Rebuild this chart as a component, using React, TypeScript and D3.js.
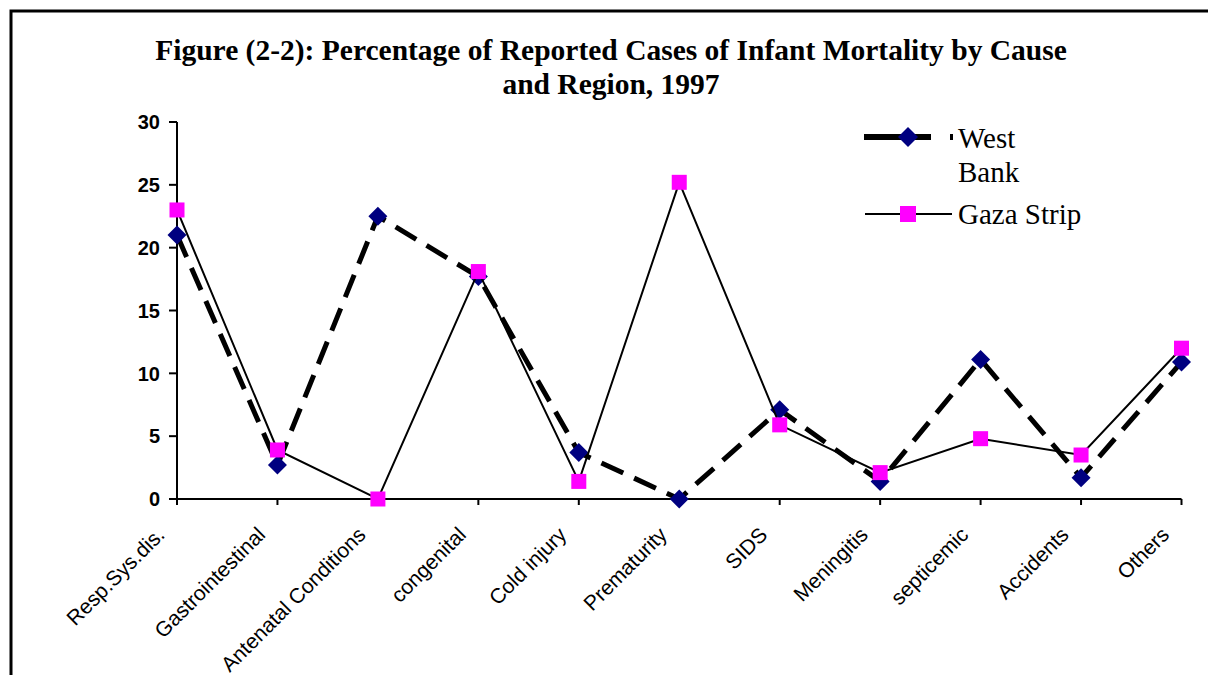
import React from "react";
import * as d3 from "d3";

const categories = [
  "Resp.Sys.dis.",
  "Gastrointestinal",
  "Antenatal Conditions",
  "congenital",
  "Cold injury",
  "Prematurity",
  "SIDS",
  "Meningitis",
  "septicemic",
  "Accidents",
  "Others",
];
const westBank = [21.0, 2.7, 22.5, 17.7, 3.7, 0, 7.1, 1.4, 11.1, 1.7, 10.9];
const gazaStrip = [23.0, 3.9, 0, 18.1, 1.4, 25.2, 5.9, 2.1, 4.8, 3.5, 12.0];
const yTicks = [0, 5, 10, 15, 20, 25, 30];
const titleLines = [
  "Figure (2-2): Percentage of Reported Cases of Infant Mortality by Cause",
  "and Region, 1997",
];

const W = 1208;
const H = 675;
const NAVY = "#000080";
const MAGENTA = "#FF00FF";
const SERIF = "'Liberation Serif', 'Times New Roman', serif";
const SANS = "'Liberation Sans', Arial, sans-serif";

export default function App() {
  const x = d3.scalePoint<string>().domain(categories).range([177, 1181.5]);
  const y = d3.scaleLinear().domain([0, 30]).range([499, 122]);

  const line = d3
    .line<number>()
    .x((_, i) => x(categories[i]) as number)
    .y((d) => y(d));

  const diamond = (cx: number, cy: number, r: number) =>
    `M${cx},${cy - r}L${cx + r},${cy}L${cx},${cy + r}L${cx - r},${cy}Z`;

  return (
    <svg
      width={W}
      height={H}
      style={{ position: "absolute", left: 0, top: 0, background: "#fff" }}
    >
      <rect x={0} y={0} width={W} height={H} fill="#fff" />
      {/* chart border */}
      <rect
        x={11}
        y={11}
        width={W + 20}
        height={H + 20}
        fill="none"
        stroke="#000"
        strokeWidth={3}
      />
      {/* title */}
      {titleLines.map((t, i) => (
        <text
          key={i}
          x={611}
          y={60 + i * 34}
          textAnchor="middle"
          fontFamily={SERIF}
          fontWeight="bold"
          fontSize={29.5}
          fill="#000"
        >
          {t}
        </text>
      ))}

      {/* y axis */}
      <line x1={177} x2={177} y1={y(30)} y2={y(0)} stroke="#000" strokeWidth={2} />
      {yTicks.map((t) => (
        <g key={t}>
          <line x1={169} x2={177} y1={y(t)} y2={y(t)} stroke="#000" strokeWidth={2} />
          <text
            x={160}
            y={y(t)}
            dy="0.36em"
            textAnchor="end"
            fontFamily={SANS}
            fontWeight="bold"
            fontSize={20}
            fill="#000"
          >
            {t}
          </text>
        </g>
      ))}

      {/* x axis */}
      <line
        x1={x(categories[0])}
        x2={x(categories[categories.length - 1])}
        y1={y(0)}
        y2={y(0)}
        stroke="#000"
        strokeWidth={2}
      />
      {categories.map((c) => {
        const cx = x(c) as number;
        return (
          <g key={c}>
            <line x1={cx} x2={cx} y1={y(0)} y2={y(0) + 6} stroke="#000" strokeWidth={2} />
            <text
              transform={`translate(${cx - 11},${y(0) + 37}) rotate(-45)`}
              textAnchor="end"
              fontFamily={SANS}
              fontSize={21}
              fill="#000"
            >
              {c}
            </text>
          </g>
        );
      })}

      {/* West Bank */}
      <path
        d={line(westBank) as string}
        fill="none"
        stroke="#000"
        strokeWidth={5}
        strokeDasharray="24 12"
      />
      {westBank.map((v, i) => (
        <path key={i} d={diamond(x(categories[i]) as number, y(v), 9.5)} fill={NAVY} />
      ))}

      {/* Gaza Strip */}
      <path d={line(gazaStrip) as string} fill="none" stroke="#000" strokeWidth={2} />
      {gazaStrip.map((v, i) => (
        <rect
          key={i}
          x={(x(categories[i]) as number) - 7.5}
          y={y(v) - 7.5}
          width={15}
          height={15}
          fill={MAGENTA}
        />
      ))}

      {/* legend */}
      <g>
        <line
          x1={864}
          x2={953}
          y1={137}
          y2={137}
          stroke="#000"
          strokeWidth={6}
          strokeDasharray="67 19 3"
        />
        <path d={diamond(908, 137, 10)} fill={NAVY} />
        <text x={958} y={148} fontFamily={SERIF} fontSize={29} fill="#000">
          West
        </text>
        <text x={958} y={182} fontFamily={SERIF} fontSize={29} fill="#000">
          Bank
        </text>
        <line x1={865} x2={952} y1={214} y2={214} stroke="#000" strokeWidth={2} />
        <rect x={900} y={206} width={16} height={16} fill={MAGENTA} />
        <text x={958} y={224} fontFamily={SERIF} fontSize={29} fill="#000">
          Gaza Strip
        </text>
      </g>
    </svg>
  );
}
